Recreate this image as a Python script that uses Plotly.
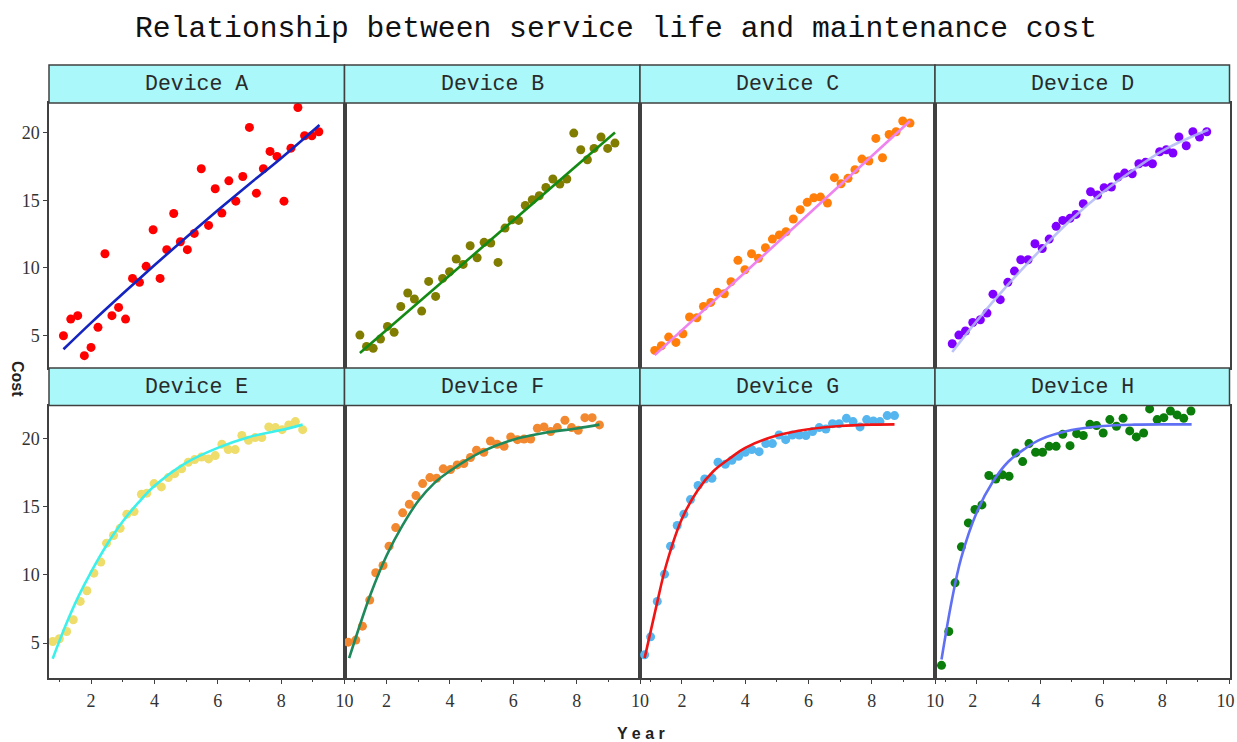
import plotly.graph_objects as go

# ---- data: service life (years) vs. maintenance cost for eight devices ----
device_names = ["Device A", "Device B", "Device C", "Device D",
                "Device E", "Device F", "Device G", "Device H"]

a_year = [1.13, 1.36, 1.58, 1.79, 2.0, 2.22, 2.44, 2.66, 2.87, 3.09, 3.31, 3.53, 3.74,
          3.96, 4.18, 4.39, 4.61, 4.82, 5.04, 5.26, 5.48, 5.71, 5.92, 6.13, 6.35, 6.57,
          6.79, 7.0, 7.22, 7.44, 7.65, 7.87, 8.09, 8.31, 8.53, 8.74, 8.97, 9.19]
a_cost = [5.0, 6.23, 6.48, 3.53, 4.14, 5.62, 11.05, 6.48, 7.09, 6.23, 9.23, 8.94, 10.12,
          12.82, 9.23, 11.35, 14.02, 11.93, 11.35, 12.55, 17.32, 13.14, 15.84, 14.05, 16.43,
          14.93, 16.75, 20.37, 15.52, 17.32, 18.6, 18.23, 14.93, 18.84, 21.84, 19.75, 19.75, 20.05]
a_fit_year = [1.13, 2, 3, 4, 5, 6, 7, 8, 9.21]
a_fit_cost = [4.0, 5.95, 8.1, 10.2, 12.25, 14.25, 16.2, 18.1, 20.55]

b_year = [1.16, 1.37, 1.58, 1.81, 2.03, 2.24, 2.45, 2.67, 2.88, 3.11, 3.33, 3.55, 3.77,
          3.99, 4.2, 4.42, 4.64, 4.86, 5.08, 5.29, 5.52, 5.74, 5.96, 6.17, 6.38, 6.6,
          6.82, 7.03, 7.25, 7.47, 7.69, 7.91, 8.13, 8.34, 8.55, 8.77, 8.98, 9.21]
b_cost = [5.05, 4.21, 4.07, 4.76, 5.69, 5.25, 7.16, 8.15, 7.71, 6.82, 9.01, 7.9, 9.23,
          9.72, 10.66, 10.26, 11.64, 10.75, 11.89, 11.84, 10.41, 12.94, 13.56, 13.51, 14.61,
          15.03, 15.33, 15.94, 16.56, 16.19, 16.56, 19.95, 18.72, 17.98, 18.82, 19.66, 18.82, 19.21]
b_fit_year = [1.16, 9.21]
b_fit_cost = [3.72, 20.0]

c_year = [1.14, 1.35, 1.58, 1.81, 2.03, 2.24, 2.47, 2.68, 2.91, 3.12, 3.34, 3.55, 3.77,
          3.99, 4.2, 4.42, 4.64, 4.86, 5.08, 5.29, 5.52, 5.74, 5.96, 6.17, 6.38, 6.6,
          6.82, 7.03, 7.25, 7.47, 7.69, 7.91, 8.13, 8.34, 8.55, 8.77, 8.98, 9.21]
c_cost = [3.92, 4.26, 4.9, 4.51, 5.15, 6.38, 6.33, 7.16, 7.46, 8.2, 8.1, 8.98, 10.56,
          9.87, 11.05, 10.71, 11.49, 12.13, 12.43, 12.67, 13.61, 14.3, 14.84, 15.18, 15.23,
          14.79, 16.66, 16.21, 16.61, 17.25, 18.03, 17.89, 19.56, 18.13, 19.85, 20.05, 20.84, 20.69]
c_fit_year = [1.14, 9.21]
c_fit_cost = [3.57, 20.84]

d_year = [1.22, 1.43, 1.64, 1.87, 2.11, 2.32, 2.51, 2.74, 2.98, 3.19, 3.39, 3.62, 3.84,
          4.07, 4.29, 4.51, 4.72, 4.95, 5.14, 5.37, 5.6, 5.82, 6.03, 6.26, 6.47, 6.68,
          6.92, 7.13, 7.34, 7.56, 7.79, 8.0, 8.21, 8.4, 8.63, 8.84, 9.05, 9.28]
d_cost = [4.41, 5.05, 5.35, 5.98, 6.18, 6.67, 8.07, 7.66, 8.94, 9.77, 10.61, 10.61, 11.79,
          11.44, 12.13, 13.07, 13.51, 13.66, 13.95, 14.74, 15.62, 15.38, 15.92, 15.97, 16.71,
          17.0, 16.95, 17.69, 17.79, 17.69, 18.57, 18.72, 18.48, 19.66, 19.02, 20.05, 19.66, 20.05]
d_fit_year = [1.22, 2, 3, 4, 5, 6, 7, 8, 9.33]
d_fit_cost = [3.8, 6.1, 8.8, 11.3, 13.6, 15.6, 17.3, 18.8, 20.2]

e_year = [0.79, 1.0, 1.23, 1.44, 1.66, 1.87, 2.09, 2.31, 2.49, 2.71, 2.92, 3.13, 3.36,
          3.59, 3.76, 3.99, 4.22, 4.44, 4.64, 4.86, 5.07, 5.27, 5.49, 5.71, 5.92, 6.13,
          6.33, 6.55, 6.76, 6.97, 7.18, 7.39, 7.61, 7.82, 8.03, 8.24, 8.45, 8.68]
e_cost = [5.12, 5.32, 5.85, 6.71, 8.05, 8.83, 10.12, 10.93, 12.32, 12.88, 13.41, 14.44, 14.63,
          15.9, 15.98, 16.68, 16.44, 17.12, 17.41, 17.76, 18.24, 18.44, 18.63, 18.49, 18.73,
          19.56, 19.17, 19.17, 20.2, 19.85, 20.05, 20.05, 20.83, 20.78, 20.63, 20.98, 21.22, 20.63]
e_fit_year = [0.79, 1.2, 1.6, 2, 2.5, 3, 3.5, 4, 5, 6, 7, 8, 8.68]
e_fit_cost = [3.85, 6.3, 8.4, 10.2, 12.2, 13.9, 15.3, 16.5, 18.2, 19.3, 20.1, 20.6, 21.0]

f_year = [0.79, 1.03, 1.24, 1.47, 1.66, 1.89, 2.08, 2.29, 2.51, 2.72, 2.93, 3.14, 3.37,
          3.58, 3.79, 4.02, 4.23, 4.44, 4.65, 4.84, 5.07, 5.28, 5.49, 5.71, 5.92, 6.13,
          6.34, 6.55, 6.76, 6.97, 7.18, 7.39, 7.63, 7.84, 8.05, 8.26, 8.49, 8.72]
f_cost = [5.07, 5.22, 6.24, 8.15, 10.15, 10.68, 12.1, 13.46, 14.54, 15.17, 15.8, 16.68, 17.12,
          17.07, 17.76, 17.71, 18.05, 18.15, 18.59, 19.12, 18.98, 19.8, 19.56, 19.41, 20.1,
          19.9, 19.95, 19.95, 20.73, 20.83, 20.49, 20.78, 21.32, 20.78, 20.59, 21.51, 21.51, 20.98]
f_fit_year = [0.82, 1.2, 1.5, 2, 2.5, 3, 3.5, 4, 5, 6, 7, 8, 8.72]
f_fit_cost = [3.9, 6.6, 8.6, 11.4, 13.6, 15.4, 16.7, 17.6, 19.0, 19.9, 20.4, 20.72, 21.0]

g_year = [0.82, 1.01, 1.22, 1.45, 1.64, 1.85, 2.06, 2.27, 2.51, 2.72, 2.95, 3.14, 3.37,
          3.58, 3.79, 4.0, 4.21, 4.44, 4.65, 4.86, 5.07, 5.28, 5.49, 5.71, 5.92, 6.13,
          6.34, 6.55, 6.76, 6.97, 7.2, 7.41, 7.63, 7.84, 8.05, 8.26, 8.49, 8.72]
g_cost = [4.15, 5.46, 8.05, 10.05, 12.1, 13.61, 14.44, 15.51, 16.54, 17.02, 17.07, 18.24, 18.1,
          18.39, 18.68, 18.98, 19.17, 19.02, 19.61, 19.61, 20.24, 19.9, 20.24, 20.24, 20.2,
          20.49, 20.78, 20.68, 21.07, 21.07, 21.46, 21.22, 20.83, 21.37, 21.27, 21.22, 21.66, 21.66]
g_fit_year = [0.82, 1.2, 1.5, 2, 2.5, 3, 3.5, 4, 5, 6, 7, 8, 8.72]
g_fit_cost = [3.9, 7.8, 10.7, 14.1, 16.2, 17.6, 18.5, 19.3, 20.2, 20.66, 20.9, 21.0, 21.02]

h_year = [0.88, 1.11, 1.31, 1.51, 1.73, 1.94, 2.16, 2.38, 2.6, 2.81, 3.02, 3.23, 3.45,
          3.65, 3.86, 4.08, 4.29, 4.51, 4.72, 4.95, 5.16, 5.37, 5.58, 5.79, 6.0, 6.21,
          6.42, 6.63, 6.84, 7.05, 7.28, 7.47, 7.71, 7.92, 8.13, 8.34, 8.55, 8.78]
h_cost = [3.37, 5.85, 9.41, 12.05, 13.8, 14.78, 15.12, 17.27, 17.02, 17.32, 17.22, 18.93, 18.29,
          19.61, 18.98, 18.98, 19.41, 19.41, 20.29, 19.46, 20.34, 20.2, 21.02, 20.93, 20.39,
          21.37, 20.88, 21.46, 20.54, 20.1, 20.39, 22.15, 21.37, 21.51, 22.0, 21.71, 21.46, 22.0]
h_fit_year = [0.88, 1.2, 1.5, 2, 2.5, 3, 3.5, 4, 5, 6, 7, 8, 8.8]
h_fit_cost = [3.8, 8.05, 11.2, 14.6, 16.8, 18.3, 19.2, 19.9, 20.6, 20.9, 21.0, 21.02, 21.02]

year_ticks = [2, 4, 6, 8, 10]
cost_ticks = [5, 10, 15, 20]

series = [
    (a_year, a_cost, a_fit_year, a_fit_cost),
    (b_year, b_cost, b_fit_year, b_fit_cost),
    (c_year, c_cost, c_fit_year, c_fit_cost),
    (d_year, d_cost, d_fit_year, d_fit_cost),
    (e_year, e_cost, e_fit_year, e_fit_cost),
    (f_year, f_cost, f_fit_year, f_fit_cost),
    (g_year, g_cost, g_fit_year, g_fit_cost),
    (h_year, h_cost, h_fit_year, h_fit_cost),
]

# ---- styling ----
W, H = 1237, 742
dot_colors = ["#ff0000", "#807d00", "#ff7f0a", "#7f00ff",
              "#eedd6a", "#f2882f", "#55b6ef", "#0b7d0b"]
fit_colors = ["#1424c0", "#138a13", "#ee82ee", "rgba(176,184,246,0.85)",
              "#3ef0ec", "#1e8a5c", "#f01414", "#6070f4"]

col_edges = [49, 344.5, 640, 935, 1229.5]        # px, left→right
row_plot = [(103, 368), (405.5, 677.5)]          # px, top→bottom
row_strip = [(65, 103), (368, 405.5)]
row_yrange = [[2.62, 22.17], [2.48, 22.4]]
x_range = [0.674, 10]

axis_color = "#404040"
strip_fill = "#aaf8f9"
mono = "Liberation Mono"
serif = "Liberation Serif"
sans = "Liberation Sans"


def fx(px):
    return px / W


def fy(py):
    return 1 - py / H


fig = go.Figure()
layout = dict(
    width=W, height=H, autosize=False,
    margin=dict(l=0, r=0, t=0, b=0, pad=0, autoexpand=False),
    paper_bgcolor="white", plot_bgcolor="white",
    showlegend=False,
    shapes=[], annotations=[],
)

for i, (xs, ys, fxs, fys) in enumerate(series):
    r, c = divmod(i, 4)
    n = i + 1
    xa = "x" if n == 1 else f"x{n}"
    ya = "y" if n == 1 else f"y{n}"

    fig.add_trace(go.Scatter(
        x=xs, y=ys, mode="markers", xaxis=xa, yaxis=ya,
        marker=dict(size=9, color=dot_colors[i], line=dict(width=0)),
    ))
    fig.add_trace(go.Scatter(
        x=fxs, y=fys, mode="lines", xaxis=xa, yaxis=ya,
        line=dict(color=fit_colors[i], width=2.6, shape="spline"),
    ))

    bottom = r == 1
    left = c == 0
    xkey = "xaxis" if n == 1 else f"xaxis{n}"
    ykey = "yaxis" if n == 1 else f"yaxis{n}"
    layout[xkey] = dict(
        domain=[fx(col_edges[c]), fx(col_edges[c + 1])],
        anchor=ya, range=x_range, automargin=False,
        showgrid=False, zeroline=False,
        showline=True, mirror=True, linecolor=axis_color, linewidth=1.5,
        ticks="outside" if bottom else "", ticklen=5, tickwidth=1.2, tickcolor=axis_color,
        tickvals=year_ticks, showticklabels=bottom, ticklabeloverflow="allow",
        # the right-most panel nudges its labels inward so "10" stays on the page
        ticklabelshift=-4 if c == 3 else 0,
        tickfont=dict(family=serif, size=18, color="#333333"),
        ticklabelstandoff=1,
        minor=dict(dtick=1, tick0=0, ticks="outside" if bottom else "", ticklen=3,
                   tickcolor=axis_color, tickwidth=1),
    )
    layout[ykey] = dict(
        domain=[fy(row_plot[r][1]), fy(row_plot[r][0])],
        anchor=xa, range=row_yrange[r], automargin=False,
        showgrid=False, zeroline=False,
        showline=True, mirror=True, linecolor=axis_color, linewidth=1.5,
        ticks="outside" if left else "", ticklen=4, tickwidth=1.2, tickcolor=axis_color,
        tickvals=cost_ticks, showticklabels=left, ticklabeloverflow="allow",
        tickfont=dict(family=serif, size=18, color="#333333"),
    )

    # facet header strip
    layout["shapes"].append(dict(
        type="rect", xref="paper", yref="paper",
        x0=fx(col_edges[c]), x1=fx(col_edges[c + 1]),
        y0=fy(row_strip[r][1]), y1=fy(row_strip[r][0]),
        fillcolor=strip_fill, line=dict(color=axis_color, width=1.5), layer="above",
    ))
    layout["annotations"].append(dict(
        text=device_names[i], xref="paper", yref="paper",
        x=fx((col_edges[c] + col_edges[c + 1]) / 2),
        y=fy((row_strip[r][0] + row_strip[r][1]) / 2),
        xanchor="center", yanchor="middle", showarrow=False,
        font=dict(family=mono, size=21.5, color="#2a2a2a"),
    ))

# overall title and axis captions
layout["annotations"] += [
    dict(text="Relationship between service life and maintenance cost",
         xref="paper", yref="paper", x=fx(616), y=fy(29),
         xanchor="center", yanchor="middle", showarrow=False,
         font=dict(family=mono, size=29.7, color="#111111")),
    dict(text="<b>Cost</b>", xref="paper", yref="paper", x=fx(18), y=fy(379),
         xanchor="center", yanchor="middle", showarrow=False, textangle=90,
         font=dict(family=sans, size=16, color="#222222")),
    dict(text="<b>Y e a r</b>", xref="paper", yref="paper", x=fx(641), y=fy(733),
         xanchor="center", yanchor="middle", showarrow=False,
         font=dict(family=sans, size=16, color="#222222")),
]

fig.update_layout(**layout)
fig.write_html("out.html", config={"responsive": False})
